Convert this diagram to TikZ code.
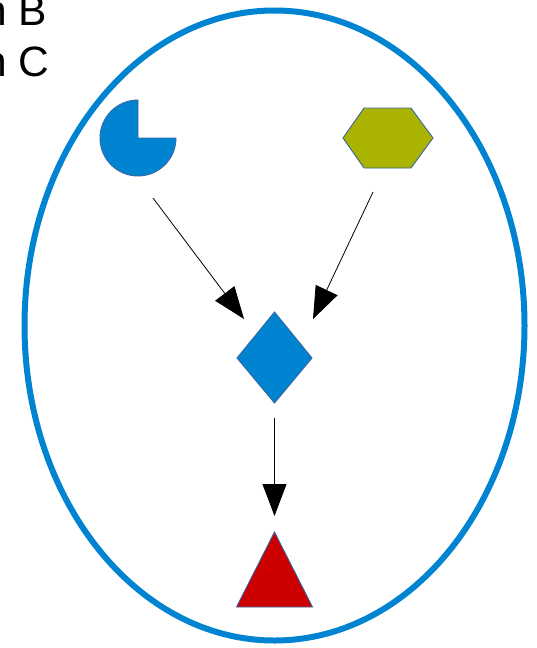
\documentclass[tikz,border=0pt]{standalone}
\usepackage{fontspec}
\setmainfont{Liberation Sans}
\usetikzlibrary{arrows.meta}
\definecolor{ovalblue}{RGB}{0,132,209}
\definecolor{edgeblue}{RGB}{52,101,164}
\definecolor{olive}{RGB}{170,180,0}
\definecolor{shapered}{RGB}{204,0,0}
\tikzset{
  shapeline/.style={draw=edgeblue, line width=0.9pt},
  arr/.style={draw=black, line width=0.8pt, -{Triangle[length=32pt,width=24pt]}},
  lbl/.style={anchor=base west, inner sep=0pt, font=\fontsize{42.5pt}{50pt}\selectfont}
}
\begin{document}
\begin{tikzpicture}[x=1pt,y=-1pt]
\useasboundingbox (0,0) rectangle (536,648);
% frame
\draw[ovalblue, line width=6pt] (274.5,325.5) ellipse [x radius=250, y radius=315];
% legend text, cut by the page edge
\node[lbl] (tb) at (-17,25) {n B};
\node[lbl] (tc) at (-17,76.5) {n C};
% pie with a missing quarter (y grows downwards here)
\coordinate (pac) at (138,138);
\filldraw[fill=ovalblue, shapeline] (138,138) -- (138,100) arc[start angle=-90, end angle=-360, radius=38] -- cycle;
% hexagon
\coordinate (hex) at (388,138);
\filldraw[fill=olive, shapeline] (343,138) -- (364,108) -- (411,108) -- (433,138) -- (411,168) -- (364,168) -- cycle;
% diamond
\coordinate (dia) at (274.5,358);
\filldraw[fill=ovalblue, shapeline] (274.5,312) -- (312,358) -- (274.5,403) -- (237,358) -- cycle;
% triangle
\coordinate (tri) at (274.5,570);
\filldraw[fill=shapered, shapeline] (274.5,532) -- (312.5,607) -- (236.5,607) -- cycle;
% connector ends
\coordinate (a1s) at (153,198);
\coordinate (a1e) at (244,319);
\coordinate (a2s) at (373,192);
\coordinate (a2e) at (313,319);
\coordinate (a3s) at (274.5,418);
\coordinate (a3e) at (274.5,516);
\draw[arr] (a1s) -- (a1e);
\draw[arr] (a2s) -- (a2e);
\draw[arr] (a3s) -- (a3e);
\end{tikzpicture}
\end{document}
